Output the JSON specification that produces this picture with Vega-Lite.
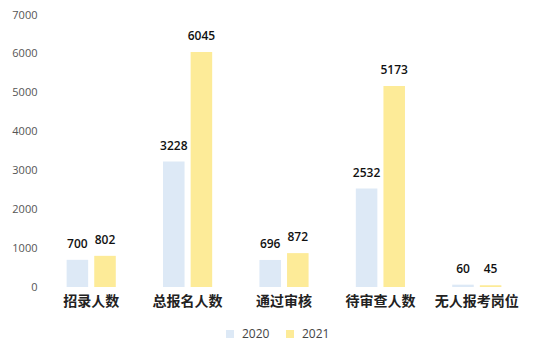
{
  "$schema": "https://vega.github.io/schema/vega-lite/v6.json",
  "width": 482,
  "height": 272,
  "autosize": {"type": "none"},
  "padding": {"left": 43, "top": 15, "right": 15, "bottom": 69},
  "background": "white",
  "config": {"view": {"stroke": null}},
  "data": {
    "values": [
      {"cat": "招录人数", "year": "2020", "value": 700},
      {"cat": "招录人数", "year": "2021", "value": 802},
      {"cat": "总报名人数", "year": "2020", "value": 3228},
      {"cat": "总报名人数", "year": "2021", "value": 6045},
      {"cat": "通过审核", "year": "2020", "value": 696},
      {"cat": "通过审核", "year": "2021", "value": 872},
      {"cat": "待审查人数", "year": "2020", "value": 2532},
      {"cat": "待审查人数", "year": "2021", "value": 5173},
      {"cat": "无人报考岗位", "year": "2020", "value": 60},
      {"cat": "无人报考岗位", "year": "2021", "value": 45}
    ]
  },
  "encoding": {
    "x": {
      "field": "cat", "type": "nominal", "sort": null,
      "scale": {"paddingInner": 0.49, "paddingOuter": 0.245},
      "axis": {
        "title": null, "labelAngle": 0, "domain": false, "ticks": false,
        "labelFont": "Noto Sans CJK SC", "labelFontSize": 14, "labelFontWeight": "bold",
        "labelColor": "#222222", "labelPadding": 7
      }
    },
    "xOffset": {"field": "year", "type": "nominal", "scale": {"paddingInner": 0.22}},
    "y": {
      "field": "value", "type": "quantitative",
      "scale": {"domain": [0, 7000]},
      "axis": {
        "title": null, "domain": false, "ticks": false, "grid": false, "format": "d",
        "values": [0, 1000, 2000, 3000, 4000, 5000, 6000, 7000],
        "labelFont": "Open Sans", "labelFontSize": 11, "labelColor": "#555555", "labelPadding": 6
      }
    }
  },
  "layer": [
    {
      "mark": {"type": "bar"},
      "encoding": {
        "color": {
          "field": "year", "type": "nominal",
          "scale": {"domain": ["2020", "2021"], "range": ["#dde9f6", "#fdeb98"]},
          "legend": {
            "title": null, "orient": "none", "legendX": 181, "legendY": 313,
            "direction": "horizontal", "symbolType": "square", "symbolSize": 64,
            "labelFont": "Open Sans", "labelFontSize": 12, "labelColor": "#444444",
            "columnPadding": 14, "labelOffset": 6
          }
        }
      }
    },
    {
      "mark": {"type": "text", "dy": -9, "baseline": "bottom", "font": "Open Sans", "fontSize": 12, "fontWeight": 600, "color": "#111111"},
      "encoding": {"text": {"field": "value", "type": "quantitative"}}
    }
  ]
}
